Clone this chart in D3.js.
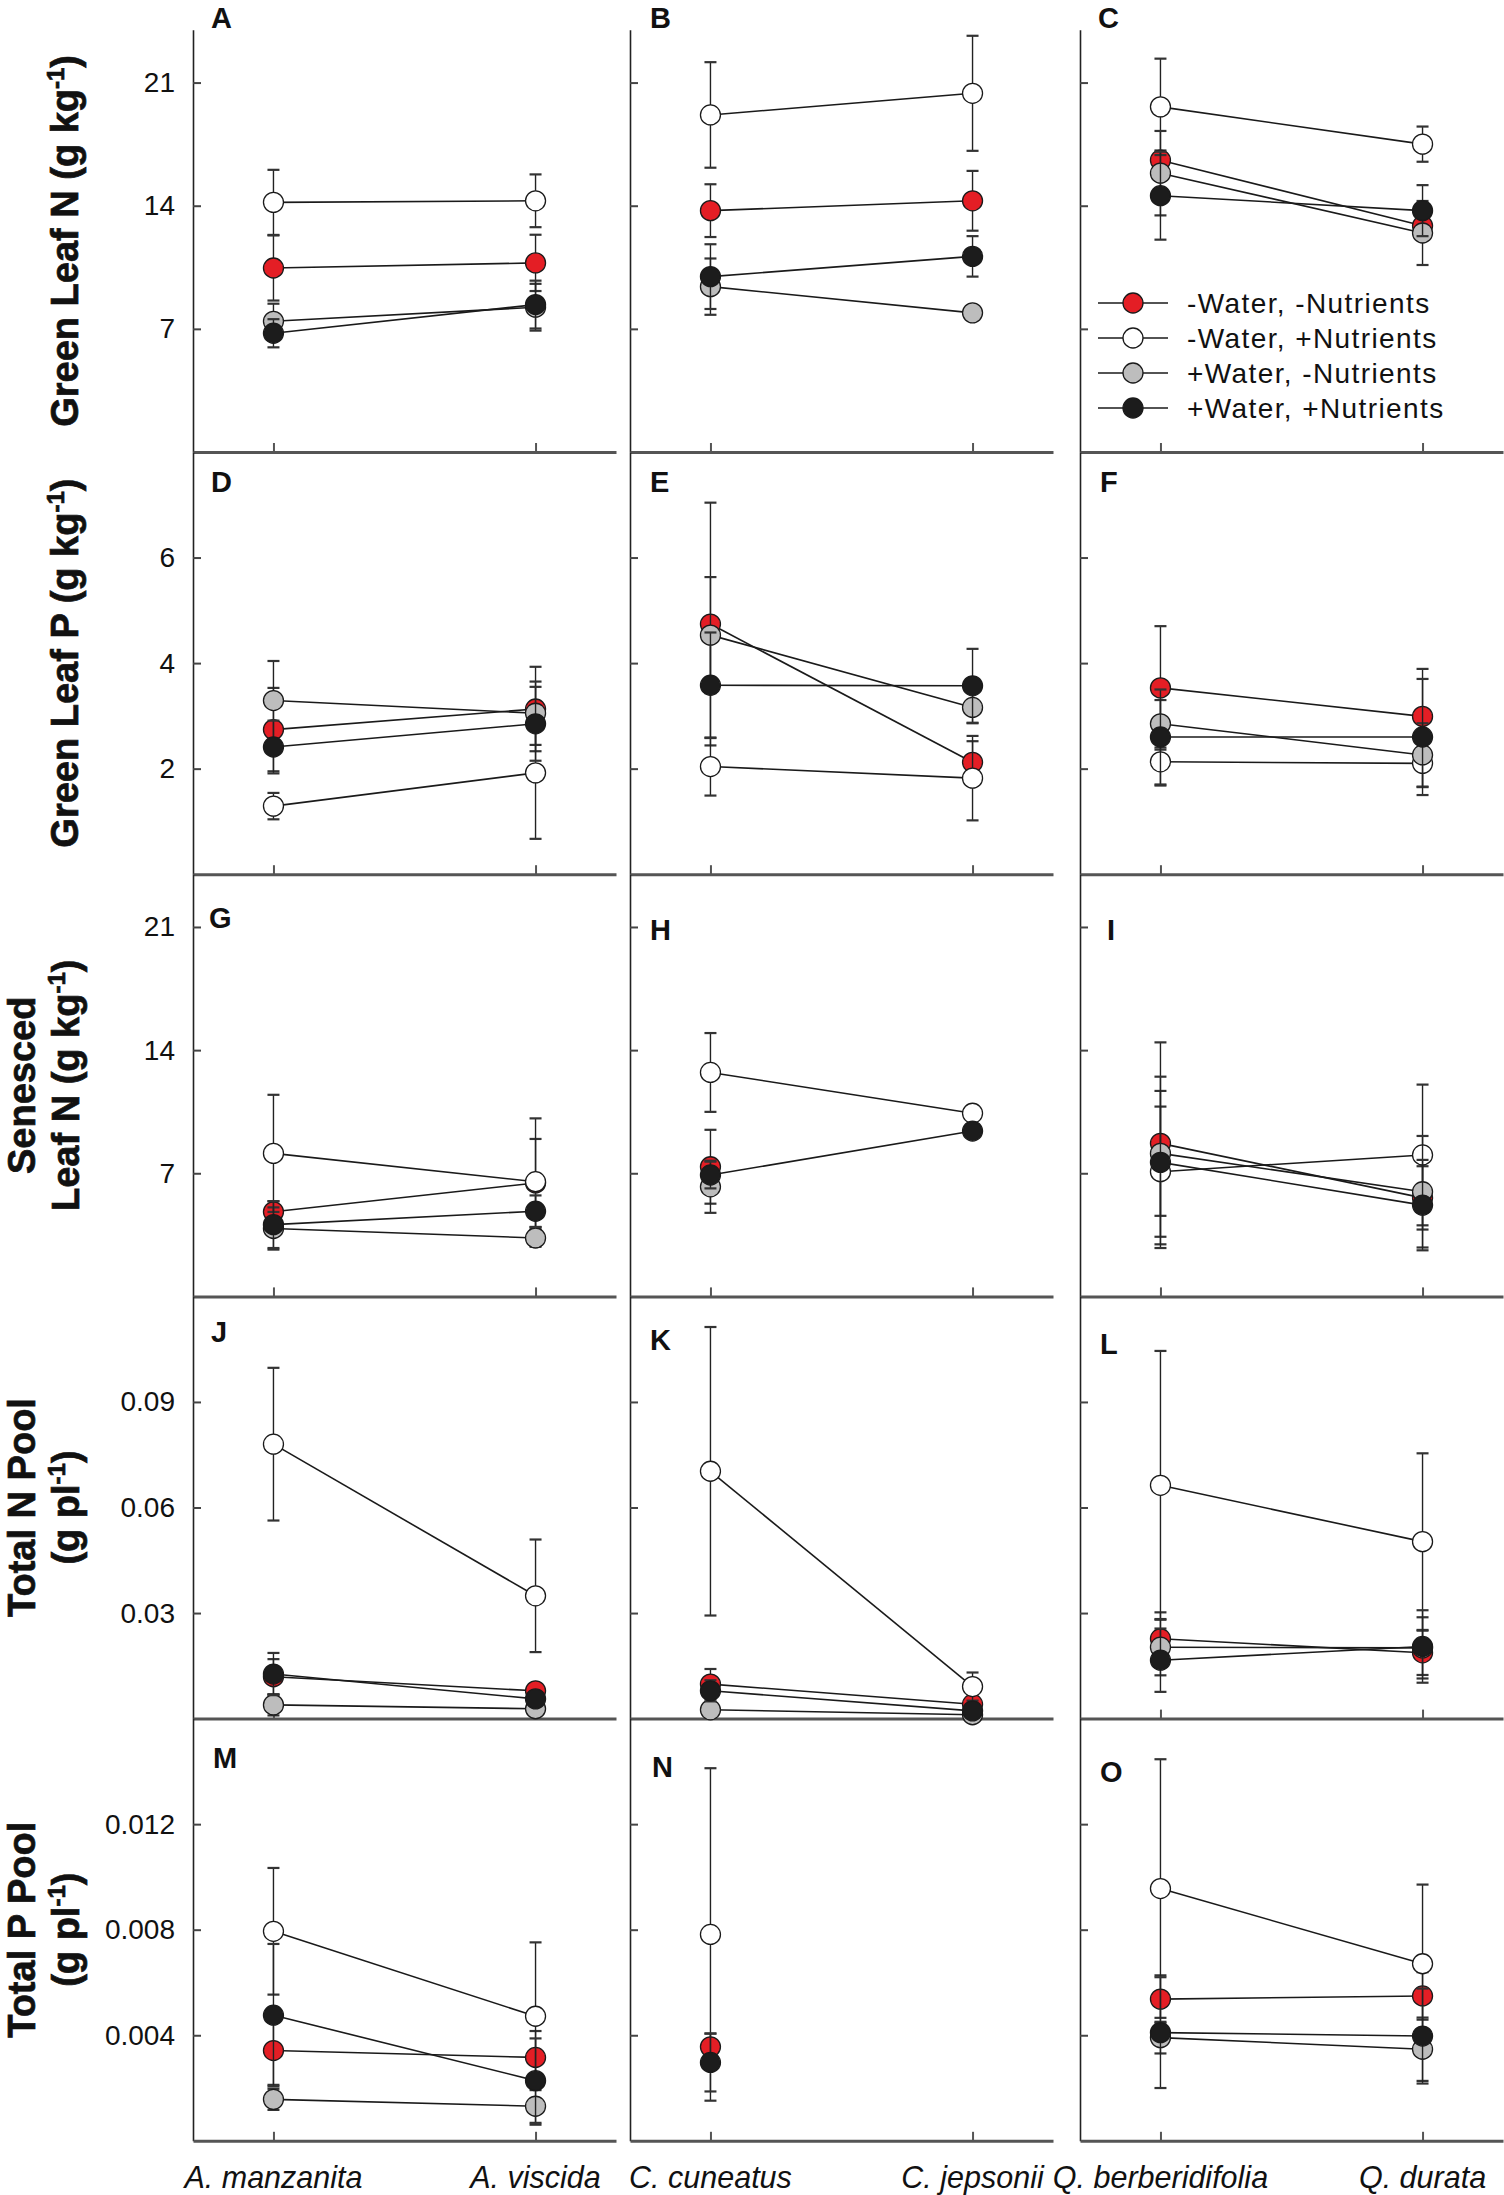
<!DOCTYPE html>
<html><head><meta charset="utf-8">
<script src="https://cdn.jsdelivr.net/npm/d3@7/dist/d3.min.js"></script>
<style>
body{margin:0;background:#fff}
svg{display:block}
text{font-family:"Liberation Sans",Arial,Helvetica,sans-serif;fill:#111}
</style>
</head><body>
<svg id="chart" width="1504" height="2195"></svg>
<script>
// ---------------- DATA ----------------
const speciesPairs = [
  ["A. manzanita", "A. viscida"],
  ["C. cuneatus", "C. jepsonii"],
  ["Q. berberidifolia", "Q. durata"]
];
const seriesNames = ["-Water, -Nutrients", "-Water, +Nutrients", "+Water, -Nutrients", "+Water, +Nutrients"];
const panelLetters = ["A","B","C","D","E","F","G","H","I","J","K","L","M","N","O"];
const yMax = [24, 8, 24, 0.12, 0.016];
const yTicks = [[7,14,21],[2,4,6],[7,14,21],[0.03,0.06,0.09],[0.004,0.008,0.012]];
const rowTitles = [
  [[["Green Leaf N (g kg",0],["-1",1],[")",0]]],
  [[["Green Leaf P (g kg",0],["-1",1],[")",0]]],
  [[["Senesced",0]],[["Leaf N (g kg",0],["-1",1],[")",0]]],
  [[["Total N Pool",0]],[["(g pl",0],["-1",1],[")",0]]],
  [[["Total P Pool",0]],[["(g pl",0],["-1",1],[")",0]]]
];

// means per panel (A..O), [first species, second species]
const meanRed = [
  [10.46,10.75],[13.72,14.28],[16.59,12.86],
  [2.74,3.13],[4.74,2.12],[3.53,2.99],
  [4.81,6.45],[7.37,null],[8.70,5.60],
  [0.0119,0.0079],[0.0098,0.0041],[0.0227,0.0187],
  [0.00342,0.00316],[0.00356,null],[0.00537,0.00549]
];
const errRed = [
  [1.85,1.6],[1.5,1.7],[0.55,0.6],
  [0.79,0.8],[2.3,0.4],[1.17,0.9],
  [0.6,2.5],[2.1,0],[5.74,1.8],
  [0.005,0.002],[0.0043,0.001],[0.0075,0.0063],
  [0.0013,0.001],[0.0005,0],[0.0009,0.0009]
];
const meanWhite = [
  [14.19,14.28],[19.16,20.39],[19.62,17.50],
  [1.29,1.92],[2.04,1.82],[2.13,2.10],
  [8.13,6.52],[12.73,10.41],[7.09,8.04],
  [0.0780,0.0349],[0.0703,0.0091],[0.0663,0.0503],
  [0.00794,0.00472],[0.00782,null],[0.00956,0.00671]
];
const errWhite = [
  [1.85,1.5],[3.0,3.27],[2.74,1.0],
  [0.25,1.25],[0.55,0.8],[0.45,0.45],
  [3.33,3.6],[2.24,0.3],[3.7,4.0],
  [0.0217,0.016],[0.041,0.004],[0.0382,0.0251],
  [0.0024,0.0028],[0.0063,0],[0.0049,0.003]
];
const meanGray = [
  [7.43,8.23],[9.40,7.91],[15.85,12.45],
  [3.29,3.05],[4.53,3.16],[2.85,2.26],
  [3.86,3.32],[6.23,null],[8.13,5.95],
  [0.0039,0.0028],[0.0025,0.0011],[0.0203,0.0201],
  [0.00157,0.00131],[null,null],[0.00391,0.00347]
];
const errGray = [
  [1.0,1.33],[1.6,0.3],[2.4,1.82],
  [0.75,0.6],[1.1,0.3],[0.45,0.6],
  [1.2,0.5],[1.48,0],[3.55,3.17],
  [0.003,0.001],[0.001,0.0005],[0.008,0.0087],
  [0.0004,0.0007],[0,0],[0.0006,0.0012]
];
const meanBlack = [
  [6.75,8.38],[9.97,11.12],[14.57,13.72],
  [2.41,2.85],[3.58,3.57],[2.60,2.60],
  [4.08,4.84],[6.90,9.40],[7.62,5.19],
  [0.01266,0.0056],[0.0079,0.0022],[0.0166,0.0205],
  [0.00476,0.00228],[0.00297,null],[0.0041,0.00397]
];
const errBlack = [
  [0.8,1.36],[1.84,1.15],[2.5,1.45],
  [0.5,0.7],[1.0,0.7],[0.9,1.1],
  [1.33,0.9],[0.76,0.3],[4.87,2.57],
  [0.006,0.002],[0.003,0.001],[0.009,0.0103],
  [0.0027,0.0016],[0.0011,0],[0.0021,0.0018]
];

// ---------------- LAYOUT / STYLE ----------------
const colX = [193, 630, 1080];
const colW = 423;
const rowH = 422.2;
const firstBottom = 452;
const fills = ["#e41e25", "#ffffff", "#bdbdbd", "#1c1c1c"];
const labelPos = [[211,28],[650,28],[1098,28],[211,492],[650,492],[1100,492],
  [209,928],[650,940],[1107,940],[211,1342],[650,1350],[1100,1354],[213,1768],[652,1777],[1100,1782]];

const series = [
  {name: seriesNames[0], mean: meanRed, err: errRed, fill: fills[0]},
  {name: seriesNames[1], mean: meanWhite, err: errWhite, fill: fills[1]},
  {name: seriesNames[2], mean: meanGray, err: errGray, fill: fills[2]},
  {name: seriesNames[3], mean: meanBlack, err: errBlack, fill: fills[3]}
];

const svg = d3.select("#chart");
const R = 10, capHalf = 6;

for (let p = 0; p < 15; p++) {
  const r = Math.floor(p / 3), c = p % 3;
  const bottom = firstBottom + rowH * r;
  const top = bottom - rowH;
  const x0 = colX[c];
  const y = d3.scaleLinear().domain([0, yMax[r]]).range([bottom, top]);
  const x = d3.scalePoint().domain(speciesPairs[c]).range([x0, x0 + colW]).padding(0.307);
  const g = svg.append("g");

  // y axis (line + inward ticks)
  const ya = g.append("g").attr("transform", `translate(${x0},0)`)
    .call(d3.axisRight(y).tickValues(yTicks[r]).tickSize(8).tickSizeOuter(0).tickFormat(""));
  ya.select(".domain").attr("stroke", "#222").attr("stroke-width", 1.6);
  ya.selectAll(".tick line").attr("stroke", "#444").attr("stroke-width", 2);

  if (c === 0) {
    const yl = g.append("g").attr("transform", `translate(${x0},0)`)
      .call(d3.axisLeft(y).tickValues(yTicks[r]).tickSize(0).tickPadding(18).tickFormat(d => String(d)));
    yl.select(".domain").remove();
    yl.selectAll("text").attr("font-size", 28).attr("fill", "#111")
      .attr("font-family", '"Liberation Sans", Arial, sans-serif');
  }

  // x axis (line + upward ticks)
  const xa = g.append("g").attr("transform", `translate(0,${bottom})`)
    .call(d3.axisTop(x).tickSize(9).tickSizeOuter(0).tickFormat(""));
  xa.select(".domain").attr("stroke", "#555").attr("stroke-width", 3);
  xa.selectAll(".tick line").attr("stroke", "#555").attr("stroke-width", 2);

  if (r === 4) {
    g.selectAll("text.xl").data(speciesPairs[c]).enter().append("text")
      .attr("class", "xl")
      .attr("x", d => x(d)).attr("y", 2188)
      .attr("text-anchor", "middle").attr("font-size", 30.5).attr("font-style", "italic")
      .text(d => d);
  }

  // panel letter
  g.append("text").attr("x", labelPos[p][0]).attr("y", labelPos[p][1])
    .attr("font-size", 29).attr("font-weight", "bold").text(panelLetters[p]);

  // series
  series.forEach(s => {
    const m = s.mean[p], e = s.err[p];
    const pts = speciesPairs[c].map((sp, i) => ({sp, v: m[i], e: e[i]})).filter(d => d.v !== null);
    const sg = g.append("g");
    if (pts.length === 2) {
      sg.append("path")
        .attr("d", d3.line().x(d => x(d.sp)).y(d => y(d.v))(pts))
        .attr("fill", "none").attr("stroke", "#1a1a1a").attr("stroke-width", 1.6);
    }
    pts.forEach(d => {
      if (d.e > 0) {
        const cx = x(d.sp), y1 = y(d.v + d.e), y2 = y(d.v - d.e);
        sg.append("line").attr("x1", cx).attr("x2", cx).attr("y1", y1).attr("y2", y2)
          .attr("stroke", "#222").attr("stroke-width", 1.4);
        [y1, y2].forEach(yy => sg.append("line")
          .attr("x1", cx - capHalf).attr("x2", cx + capHalf).attr("y1", yy).attr("y2", yy)
          .attr("stroke", "#333").attr("stroke-width", 2.2));
      }
    });
    sg.selectAll("circle").data(pts).enter().append("circle")
      .attr("cx", d => x(d.sp)).attr("cy", d => y(d.v)).attr("r", R)
      .attr("fill", s.fill).attr("stroke", "#1a1a1a").attr("stroke-width", 1.3);
  });
}

// row titles
rowTitles.forEach((lines, r) => {
  const cy = firstBottom + rowH * r - rowH / 2;
  const n = lines.length;
  const lineGap = 44;
  const baseX = n === 1 ? 78 : 35;
  lines.forEach((segs, li) => {
    const t = svg.append("text")
      .attr("transform", `translate(${baseX + li * lineGap},${cy}) rotate(-90)`)
      .attr("text-anchor", "middle").attr("font-size", 38).attr("font-weight", "bold")
      .attr("stroke", "#111").attr("stroke-width", 0.7);
    segs.forEach(([txt, sup]) => {
      const ts = t.append("tspan").text(txt);
      if (sup) ts.attr("font-size", 24).attr("baseline-shift", "60%");
    });
  });
});

// legend (inside panel C)
const lg = svg.append("g");
series.forEach((s, i) => {
  const yy = 303 + i * 35;
  lg.append("line").attr("x1", 1098).attr("x2", 1168).attr("y1", yy).attr("y2", yy)
    .attr("stroke", "#1a1a1a").attr("stroke-width", 1.6);
  lg.append("circle").attr("cx", 1133).attr("cy", yy).attr("r", R)
    .attr("fill", s.fill).attr("stroke", "#1a1a1a").attr("stroke-width", 1.3);
  lg.append("text").attr("x", 1187).attr("y", yy).attr("dy", "0.36em")
    .attr("font-size", 28).attr("letter-spacing", 1.4).text(s.name);
});
</script>
</body></html>
